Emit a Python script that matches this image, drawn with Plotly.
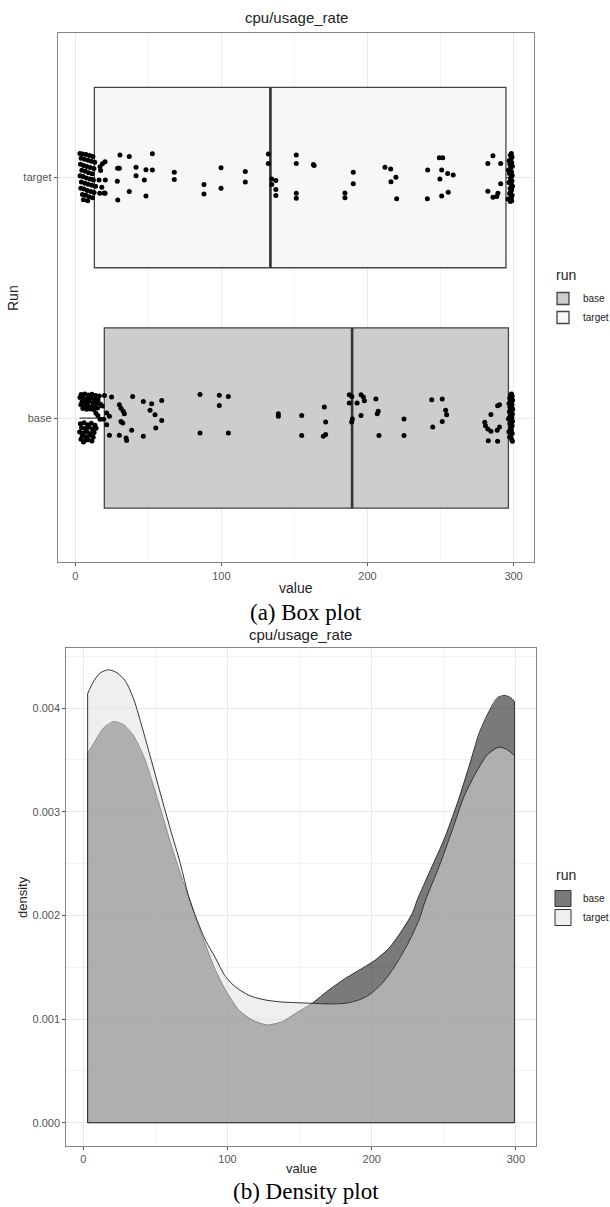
import plotly.graph_objects as go

# ---------------- data ----------------
runs = ["base", "target"]
run_pos = [1, 2]

# box statistics
box_q1 = [19.9, 13.1]
box_median = [189.5, 133.6]
box_q3 = [296.5, 294.8]
box_low = [3.0, 3.0]
box_high = [299.4, 299.3]

# jittered points: values and vertical jitter (category units)
target_left_x = [3.2, 5.1, 7.4, 9.8, 12.1, 4.0, 6.3, 8.7, 11.0, 13.4, 3.6, 5.8, 8.0, 10.3, 12.8,
                 4.5, 6.9, 9.2, 11.6, 3.3, 5.4, 7.7, 10.0, 12.4, 4.2, 6.6, 8.9, 11.3, 13.9,
                 3.8, 6.0, 8.3, 10.7, 12.9, 4.9, 7.2, 9.5, 11.9, 5.6, 8.5]
target_left_j = [0.100, 0.098, 0.096, 0.092, 0.088, 0.080, 0.076, 0.072, 0.068, 0.064,
                 0.055, 0.050, 0.046, 0.042, 0.038, 0.030, 0.026, 0.020, 0.016,
                 0.008, 0.004, -0.002, -0.006, -0.010, -0.018, -0.024, -0.028, -0.032, -0.036,
                 -0.044, -0.048, -0.054, -0.058, -0.062, -0.070, -0.074, -0.080, -0.084,
                 -0.092, -0.096]
target_mid_x = [30.6, 37.0, 52.8, 20.4, 18.6, 17.4, 30.2, 29.0, 41.6, 48.4, 52.8, 41.6, 47.3,
                28.8, 20.6, 16.3, 20.4, 37.0, 29.1, 48.4, 67.8, 67.8, 88.1, 88.1, 99.8, 99.8,
                116.4, 116.4, 17.0, 18.2, 19.8, 16.8,
                132.2, 132.2, 134.5, 137.3, 134.5, 137.3, 137.3, 151.3, 151.3, 151.3, 151.3,
                163.0, 163.5, 190.3, 190.3, 184.6, 184.6, 212.0, 215.9, 219.5, 216.1, 220.0,
                241.2, 241.0, 249.2, 251.5, 250.8, 254.9, 249.6, 258.7, 255.3, 250.8,
                285.9, 282.4, 282.4, 285.9, 291.2, 291.2, 289.3, 288.5]
target_mid_j = [0.094, 0.088, 0.099, 0.066, 0.057, 0.029, 0.039, 0.039, 0.043, 0.033, 0.032,
                0.008, -0.010, -0.015, -0.010, -0.010, -0.065, -0.058, -0.093, -0.077, 0.022,
                -0.008, -0.029, -0.068, 0.041, -0.044, 0.025, -0.018, 0.045, -0.040, -0.064, -0.065,
                0.098, 0.059, -0.006, -0.012, -0.029, -0.050, -0.075, 0.094, 0.059, -0.065, -0.086,
                0.054, 0.050, 0.022, -0.026, -0.064, -0.084, 0.043, 0.036, 0.001, -0.017, -0.088,
                0.032, -0.088, 0.082, 0.082, 0.032, 0.017, -0.006, 0.011, -0.061, -0.077,
                0.091, 0.059, -0.057, -0.082, 0.059, -0.026, -0.065, -0.079]
target_right_x = [298.5, 297.8, 299.0, 298.2, 296.9, 298.8, 297.5, 299.2, 298.0, 296.5,
                  298.6, 297.2, 299.1, 298.3, 297.9, 298.9, 296.8, 298.4, 299.3, 297.6,
                  298.7, 298.1, 297.3, 299.0, 298.5, 296.2, 298.8, 297.7]
target_right_j = [0.100, 0.093, 0.086, 0.078, 0.070, 0.062, 0.055, 0.047, 0.040, 0.032,
                  0.024, 0.017, 0.009, 0.002, -0.006, -0.013, -0.021, -0.028, -0.036, -0.044,
                  -0.051, -0.059, -0.066, -0.074, -0.082, -0.089, -0.096, -0.100]

base_left_x = [4.0, 6.5, 9.0, 11.5, 14.0, 16.5, 3.2, 5.6, 8.1, 10.6, 13.1, 15.6,
               4.6, 7.1, 9.6, 12.1, 14.6, 17.2, 3.8, 6.2, 8.7, 11.2, 13.7, 5.2, 7.8, 10.3, 12.8, 15.3,
               3.5, 6.0, 8.5, 11.0, 13.5, 4.3, 6.8, 9.3, 11.8, 14.3, 3.0, 5.4, 7.9, 10.4, 12.9,
               4.8, 7.3, 9.8, 12.3, 3.9, 6.4, 8.9, 11.4, 5.6, 15.5, 17.0, 14.2]
base_left_j = [0.098, 0.100, 0.096, 0.099, 0.094, 0.092, 0.085, 0.082, 0.080, 0.084, 0.078, 0.076,
               0.068, 0.066, 0.070, 0.062, 0.064, 0.058, 0.055, 0.050, 0.052, 0.046, 0.048,
               0.040, 0.036, 0.038, 0.034, 0.042,
               -0.024, -0.020, -0.028, -0.022, -0.030, -0.040, -0.044, -0.038, -0.046, -0.042,
               -0.058, -0.062, -0.056, -0.064, -0.060, -0.074, -0.078, -0.072, -0.080,
               -0.088, -0.094, -0.090, -0.096, -0.100, 0.010, -0.005, 0.020]
base_mid_x = [20.0, 24.9, 39.3, 46.6, 52.3, 59.2, 85.4, 98.6, 104.8, 98.6, 30.2, 31.3, 32.9,
              33.6, 21.5, 23.4, 51.2, 54.6, 59.2, 21.5, 31.3, 32.5, 38.6, 55.1, 23.4, 30.2,
              34.8, 35.2, 46.6, 85.4, 104.8, 18.5, 19.5,
              139.0, 139.0, 155.0, 155.0, 170.5, 171.4, 169.8, 171.4, 187.6, 189.3, 187.6,
              189.7, 189.2, 192.9, 195.6, 197.2, 197.9, 195.6, 205.8, 207.4, 206.7, 207.9,
              225.0, 225.0, 244.0, 251.2, 253.5, 254.2, 251.2, 244.7,
              280.3, 280.8, 282.4, 284.5, 284.5, 289.1, 290.4, 290.4, 288.8, 282.7, 289.1]
base_mid_j = [0.094, 0.087, 0.090, 0.069, 0.059, 0.073, 0.098, 0.095, 0.090, 0.052, 0.055,
              0.041, 0.028, 0.018, 0.021, 0.007, 0.032, 0.014, -0.010, -0.028, -0.014, -0.021,
              -0.051, -0.041, -0.072, -0.072, -0.083, -0.093, -0.076, -0.062, -0.062, 0.050, -0.005,
              0.018, 0.007, 0.010, -0.073, 0.046, -0.017, -0.076, -0.069, 0.097, 0.090, 0.062,
              -0.004, -0.017, 0.062, 0.097, 0.087, 0.072, 0.010, 0.079, 0.028, 0.018, -0.073,
              -0.004, -0.073, 0.076, 0.079, 0.032, 0.014, -0.014, -0.037,
              -0.018, -0.032, -0.046, -0.055, 0.015, 0.051, 0.055, -0.037, -0.051, -0.094, -0.097]
base_right_x = [298.6, 297.9, 299.1, 298.3, 297.4, 298.8, 299.3, 297.8, 298.5, 296.9,
                299.0, 298.2, 297.6, 298.9, 299.4, 298.0, 297.2, 298.7, 299.2, 298.4,
                297.7, 298.9, 296.5, 298.1, 299.3, 298.6, 297.5, 298.8, 299.0, 298.3,
                297.9, 298.5, 296.8, 299.1, 298.2, 297.3, 298.7, 299.2]
base_right_j = [0.100, 0.096, 0.092, 0.088, 0.083, 0.078, 0.074, 0.069, 0.064, 0.060,
                0.055, 0.050, 0.045, 0.041, 0.036, 0.031, 0.026, 0.021, 0.017, 0.012,
                0.007, 0.002, -0.003, -0.008, -0.013, -0.018, -0.023, -0.028, -0.033, -0.039,
                -0.045, -0.051, -0.057, -0.064, -0.071, -0.079, -0.088, -0.097]

# density curves (value, density x 1e-3)
dens_target_x = [3.0, 7.2, 11.8, 17.6, 23.4, 29.2, 35.1, 40.7, 46.5, 53.4, 60.4, 67.3, 73.1, 79.0,
                 84.7, 91.6, 98.6, 105.5, 114.8, 124.0, 135.6, 147.2, 158.7, 170.3, 181.9, 191.1,
                 198.1, 207.3, 216.6, 225.8, 232.8, 237.4, 246.7, 255.9, 264.0, 272.1, 280.2,
                 288.3, 294.1, 299.0]
dens_target_y = [4.14, 4.26, 4.34, 4.37, 4.34, 4.26, 4.08, 3.82, 3.53, 3.18, 2.83, 2.50, 2.18, 1.95,
                 1.76, 1.59, 1.41, 1.31, 1.23, 1.19, 1.167, 1.158, 1.152, 1.146, 1.152, 1.184,
                 1.232, 1.345, 1.522, 1.747, 1.957, 2.15, 2.47, 2.825, 3.147, 3.372, 3.55,
                 3.624, 3.598, 3.541]
dens_base_x = [3.0, 7.2, 14.1, 21.1, 28.0, 35.0, 41.9, 48.8, 55.8, 62.7, 69.6, 73.8, 79.0, 84.7,
               91.6, 98.6, 107.8, 117.1, 127.5, 137.9, 147.2, 158.7, 170.3, 181.9, 193.5, 202.7,
               212.0, 221.2, 228.2, 231.6, 240.8, 250.1, 259.3, 267.5, 274.5, 281.4, 287.2,
               292.3, 296.4, 299.0]
dens_base_y = [3.565, 3.66, 3.81, 3.87, 3.84, 3.73, 3.533, 3.244, 2.92, 2.60, 2.31, 2.15, 1.93,
               1.715, 1.474, 1.281, 1.088, 0.991, 0.943, 0.975, 1.055, 1.152, 1.281, 1.394, 1.49,
               1.571, 1.684, 1.86, 2.021, 2.15, 2.44, 2.73, 3.08, 3.436, 3.758, 3.97, 4.10,
               4.122, 4.10, 4.064]

x_ticks = [0, 100, 200, 300]
dens_ticks = [0.000, 0.001, 0.002, 0.003, 0.004]

# ---------------- style ----------------
W, H = 610, 1207
SANS = "Liberation Sans, Arial, sans-serif"
SERIF = "Liberation Serif, Times New Roman, serif"
TICK_C = "#555555"
BORDER = "#858585"
GRID = "#e9e9e9"
MINOR = "#f3f3f3"

def px_x(v):
    return v / W

def px_y(v):
    return 1 - v / H

box_fill = ["#cdcdcd", "#f7f7f7"]
dens_fill = ["rgba(0,0,0,0.52)", "rgba(225,225,225,0.52)"]

fig = go.Figure()

# ---- box plot ----
for i in range(2):
    fig.add_trace(go.Box(
        orientation="h", y=[run_pos[i]], q1=[box_q1[i]], median=[box_median[i]],
        q3=[box_q3[i]], lowerfence=[box_low[i]], upperfence=[box_high[i]],
        width=0.75, whiskerwidth=0, fillcolor=box_fill[i],
        line=dict(color="#444444", width=1.3),
        boxpoints=False, name=runs[i], legend="legend", showlegend=True,
        hoverinfo="skip", xaxis="x", yaxis="y"))
for i in range(2):
    fig.add_trace(go.Scatter(
        x=[box_median[i], box_median[i]], y=[run_pos[i] - 0.375, run_pos[i] + 0.375],
        mode="lines", line=dict(color="#333333", width=2.6), showlegend=False,
        hoverinfo="skip", xaxis="x", yaxis="y"))

pts = {
    "base": (base_left_x + base_mid_x + base_right_x, base_left_j + base_mid_j + base_right_j, 1),
    "target": (target_left_x + target_mid_x + target_right_x,
               target_left_j + target_mid_j + target_right_j, 2),
}
for name, (xs, js, pos) in pts.items():
    fig.add_trace(go.Scatter(
        x=xs, y=[pos + j for j in js], mode="markers",
        marker=dict(color="black", size=5), showlegend=False, hoverinfo="skip",
        xaxis="x", yaxis="y"))

# ---- density plot ----
dens = [(dens_base_x, dens_base_y), (dens_target_x, dens_target_y)]
for i in range(2):
    xs, ys = dens[i]
    yv = [v / 1000 for v in ys]
    fig.add_trace(go.Scatter(
        x=[xs[0]] + xs + [xs[-1], xs[0]], y=[0] + yv + [0, 0], mode="lines",
        fill="toself", fillcolor=dens_fill[i], line=dict(width=0, color=dens_fill[i]),
        name=runs[i], legend="legend2", showlegend=False,
        hoverinfo="skip", xaxis="x2", yaxis="y2"))
    fig.add_trace(go.Scatter(
        x=xs, y=yv, mode="lines", line=dict(color="#333333", width=1, shape="spline",
                                            smoothing=0.8),
        showlegend=False, hoverinfo="skip", xaxis="x2", yaxis="y2"))
    fig.add_trace(go.Scatter(
        x=[xs[0], xs[0], xs[-1], xs[-1]], y=[yv[0], 0, 0, yv[-1]], mode="lines",
        line=dict(color="#333333", width=1), showlegend=False, hoverinfo="skip",
        xaxis="x2", yaxis="y2"))

for i in range(2):
    fig.add_trace(go.Scatter(
        x=[None], y=[None], mode="markers", name=runs[i], legend="legend2",
        marker=dict(symbol="square", size=17, color=dens_fill[i],
                    line=dict(color="#333333", width=1)),
        xaxis="x2", yaxis="y2"))

axis_common = dict(showline=True, mirror=True, linecolor=BORDER, linewidth=1,
                   ticks="outside", ticklen=3, tickcolor="#555555", zeroline=False,
                   showgrid=True, gridcolor=GRID, gridwidth=1,
                   tickfont=dict(family=SANS, size=11, color=TICK_C))

legend_common = dict(xanchor="left", yanchor="top",
                     font=dict(family=SANS, size=10, color="#222"),
                     bgcolor="rgba(0,0,0,0)", itemwidth=30, tracegroupgap=0)

fig.update_layout(
    width=W, height=H, autosize=False,
    margin=dict(l=0, r=0, t=0, b=0, autoexpand=False),
    paper_bgcolor="white", plot_bgcolor="white",
    xaxis=dict(domain=[px_x(57.7), px_x(534)], range=[-12, 314], anchor="y",
               tickvals=x_ticks, minor=dict(dtick=50, tick0=0, showgrid=True,
                                            gridcolor=MINOR, ticklen=0),
               **axis_common),
    yaxis=dict(domain=[px_y(562.3), px_y(33.3)], range=[0.4, 2.6], anchor="x",
               tickvals=run_pos, ticktext=runs, **axis_common),
    xaxis2=dict(domain=[px_x(66.3), px_x(535.8)], range=[-11.8, 313.8], anchor="y2",
                tickvals=x_ticks, minor=dict(dtick=50, tick0=0, showgrid=True,
                                             gridcolor=MINOR, ticklen=0),
                **axis_common),
    yaxis2=dict(domain=[px_y(1146), px_y(648)], range=[-0.000225, 0.00458], anchor="x2",
                tickvals=dens_ticks, tickformat=".3f",
                minor=dict(dtick=0.0005, tick0=0, showgrid=True, gridcolor=MINOR, ticklen=0),
                **axis_common),
    legend=dict(x=px_x(543), y=px_y(284), **legend_common),
    legend2=dict(x=px_x(543), y=px_y(884), **legend_common),
    showlegend=True,
)

def ann(text, x, y, size, family=SANS, color="#222", angle=0, xanchor="center"):
    fig.add_annotation(text=text, x=px_x(x), y=px_y(y), xref="paper", yref="paper",
                       showarrow=False, xanchor=xanchor, yanchor="middle",
                       textangle=angle, font=dict(family=family, size=size, color=color))

ann("cpu/usage_rate", 296, 18, 15)
ann("value", 296, 588, 14)
ann("Run", 13, 298, 14, angle=-90)
ann("run", 554, 275, 14, xanchor="left")
ann("(a) Box plot", 306, 612, 23, family=SERIF, color="black")
ann("cpu/usage_rate", 300, 634, 15)
ann("value", 301, 1168, 13)
ann("density", 22, 897, 13, angle=-90)
ann("run", 554, 875, 14, xanchor="left")
ann("(b) Density plot", 306, 1191, 23, family=SERIF, color="black")

fig.write_html("out.html")
